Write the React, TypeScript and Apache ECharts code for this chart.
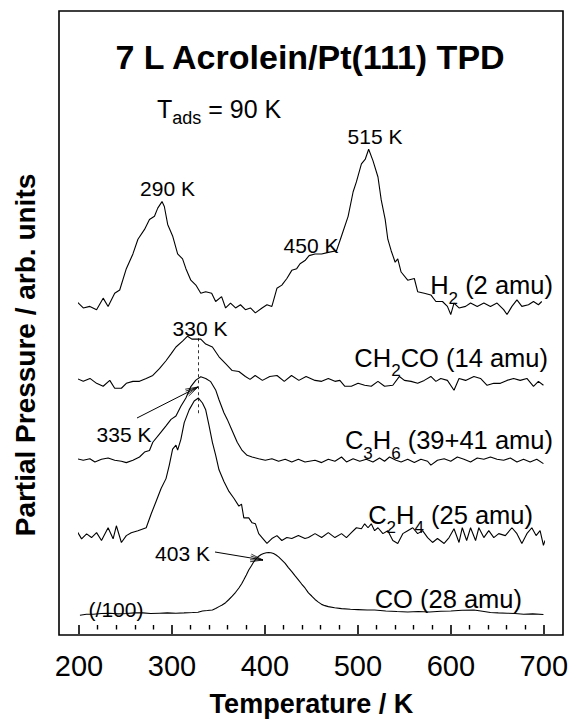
import React, { useEffect, useRef } from "react";
import * as echarts from "echarts";

const FONT = "'Liberation Sans', Arial, Helvetica, sans-serif";

// x axis (Temperature / K)
const xMin = 200;
const xMax = 700;
const xStep = 100;

// Traces: [temperature K, partial pressure (arb. units, offset stacked as in figure)]
const h2: number[][] = [
  [197.5, 329.3], [204.6, 322.7], [211.7, 324.3], [218.9, 321], [226, 332.7], [231.3, 324.3],
  [238.4, 337.7], [243.8, 341], [250.9, 362.7], [258, 377.7], [263.4, 392.7], [270.5, 402.7],
  [275.8, 412.7], [281.2, 416], [284.7, 424.3], [289.3, 431], [291.8, 426], [295.4, 407.7],
  [300.7, 396], [306.1, 377.7], [311.4, 372.7], [315, 362.7], [320.3, 351], [325.7, 346],
  [331, 337.7], [336.3, 339.3], [342.7, 337.7], [347, 329.3], [353.4, 334.3], [357.7, 322.7],
  [363, 327.7], [368.4, 322.7], [373.7, 326], [379, 321], [384.4, 322.7], [389.7, 317.7],
  [396.9, 322.7], [402.2, 326], [407.5, 324.3], [412.9, 342.7], [418.2, 346], [423.6, 352.7],
  [428.9, 361], [434.2, 362.7], [437.8, 367.7], [443.1, 371], [447.5, 376], [453.9, 377.7],
  [461, 377.7], [468.2, 379.3], [477, 381], [482.4, 396], [489.5, 416], [494.9, 441],
  [498.4, 451], [503.8, 469.3], [508, 474.3], [511.6, 484.3], [516.2, 472.7], [521.6, 456],
  [525.1, 432.7], [529.4, 412.7], [532.2, 392.7], [535.8, 381], [540.1, 369.3], [542.9, 372.7],
  [546.5, 359.3], [553.6, 351], [560.7, 352.7], [564.3, 339.3], [571.4, 337.7], [578.5, 336],
  [583.9, 329.3], [591, 329.3], [596.3, 324.3], [599.9, 316], [603.4, 327.7], [608.8, 322.7],
  [615.9, 324.3], [621.2, 327.7], [628.4, 324.3], [635.5, 327.7], [642.6, 324.3], [649.7, 327.7],
  [656.8, 321], [660.4, 316], [665.7, 324.3], [671.1, 331], [676.4, 324.3], [683.5, 326],
  [688.9, 329.3], [694.2, 326], [697.8, 329.3],
];

const ch2co: number[][] = [
  [197.5, 251], [204.6, 248], [211.8, 251], [218.9, 246], [226, 243], [233.1, 249],
  [238.4, 241], [245.6, 241], [250.9, 246], [258, 248], [265.1, 248], [272.3, 251],
  [279.4, 254], [286.5, 261], [293.6, 269], [299, 276], [304.3, 283], [311.4, 289],
  [316.8, 294], [321.4, 291], [325.7, 291], [331, 291], [336.3, 286], [343.5, 283],
  [350.6, 273], [357.7, 266], [364.8, 259], [372, 258], [379, 253], [384, 250], [389.5, 254],
  [397.3, 249], [405.2, 253], [413, 254], [420.8, 248], [428.6, 254], [436.5, 249],
  [444.3, 253], [453.9, 249], [461, 248], [468.2, 251], [475.3, 248], [480.6, 249],
  [486, 243], [493, 243], [500.2, 246], [507.3, 244], [514.4, 243], [521.6, 248],
  [528.7, 243], [537.6, 244], [544.7, 253], [550, 249], [557.2, 248], [564.3, 246],
  [571.4, 249], [578.5, 253], [583.9, 248], [589.2, 251], [596.3, 249], [603.4, 239],
  [608.8, 251], [615.9, 249], [624.8, 253], [631.9, 251], [639, 244], [646.2, 246],
  [653.3, 246], [660.4, 249], [667.5, 251], [674.6, 249], [681.8, 251], [688.9, 243],
  [694.2, 248], [699.6, 244],
];

const c3h6: number[][] = [
  [197.5, 169.3], [204.6, 167.7], [211.7, 169.3], [217.1, 166], [224.2, 168.7], [231.3, 170],
  [238.4, 167.7], [245.6, 166.7], [250.9, 165.3], [258, 167.7], [265.1, 171], [270.5, 176],
  [275.8, 177.7], [279.4, 186], [286.5, 194.3], [293.6, 202.7], [299, 209.3], [304.3, 212.7],
  [309.6, 222.7], [315, 231], [320.3, 242.7], [325.7, 249.3], [331, 252.7], [336.3, 251],
  [341.7, 247.7], [347, 239.3], [350.6, 229.3], [355.9, 216], [359.5, 209.3], [364.8, 197.7],
  [370.2, 186], [375.5, 177.7], [380.8, 172.7], [386.2, 171], [393.3, 169.3], [400.4, 167.7],
  [407.5, 169.3], [414.7, 166.7], [421.8, 168.7], [428.9, 166], [436, 168.7], [443.1, 166],
  [453.9, 167.7], [461, 165.3], [468.2, 168.7], [475.3, 166.7], [482.4, 171], [487.7, 166],
  [494.9, 169.3], [502, 166.7], [509.1, 168.7], [516.2, 166], [523.3, 170], [528.7, 166.7],
  [534, 171], [541.1, 167.7], [546.5, 166], [553.6, 168.7], [560.7, 165.3], [567.8, 168.7],
  [575, 166.7], [578.5, 162.7], [585.6, 167.7], [592.8, 169.3], [599.9, 166.7], [607, 171],
  [614.1, 168.7], [621.2, 166], [628.4, 170], [635.5, 168.7], [642.6, 171], [649.7, 168.7],
  [656.8, 167.7], [664, 170], [671.1, 166], [678.2, 168.7], [685.3, 166], [692.4, 168.7],
  [699.6, 164.3],
];

const c2h4: number[][] = [
  [197.5, 96], [202.8, 87.7], [208.2, 92.7], [213.5, 89], [218.9, 94], [224.2, 86],
  [231.3, 99], [236.7, 87.7], [240.2, 101], [245.6, 84], [250.9, 91], [256.2, 94],
  [263.4, 96], [272.3, 99], [277.6, 113], [283, 126], [288.3, 139], [293.6, 149],
  [297.2, 163], [300.7, 179], [304.3, 183], [306.1, 178], [309.6, 189], [313.2, 206],
  [318.5, 219], [323.9, 228], [328.5, 231], [332.8, 226], [336.3, 219], [339.9, 203],
  [343.5, 186], [347, 173], [350.6, 158], [355.9, 146], [361.3, 136], [366.6, 129],
  [372, 121], [374.8, 123], [377.3, 109], [382.6, 109], [386.2, 104], [389.8, 103],
  [393.3, 93], [396.9, 89], [402.2, 83], [407.5, 88], [412.9, 91], [418.2, 86],
  [423.6, 89], [428.9, 88], [436, 91], [443.1, 88], [446.8, 89], [453.9, 93], [461, 89],
  [468.2, 94], [475.3, 89], [482.4, 93], [487.7, 89], [493, 94], [498.4, 99], [503.8, 98],
  [507.3, 103], [510.9, 99], [514.4, 103], [518, 96], [521.6, 99], [526.9, 93], [532.2, 96],
  [537.6, 86], [542.9, 83], [548.3, 93], [553.6, 96], [559, 99], [564.3, 93], [569.6, 96],
  [575, 89], [580.3, 84], [585.6, 88], [592.8, 83], [598.1, 89], [603.4, 98], [608.8, 84],
  [612.3, 99], [617, 86], [621.2, 99], [626.6, 86], [630.1, 99], [635.5, 89], [640.8, 96],
  [646.2, 89], [651.5, 93], [658.6, 91], [665.7, 99], [671.1, 93], [676.4, 83], [681.8, 93],
  [687.1, 99], [691.7, 91], [696, 96], [699.6, 81], [701.3, 86],
];

const co: number[][] = [
  [201, 10], [208, 11], [215.3, 11], [224, 11.7], [233.1, 12], [242, 11.3], [250.9, 11.7],
  [260, 12.3], [268.7, 12.3], [277, 11.7], [286.5, 12], [295, 12.3], [304.3, 12], [313, 12.3],
  [322.1, 12.7], [328, 13], [332.8, 14.3], [338, 14.7], [343.5, 15.3], [347, 16.7],
  [350.6, 18.7], [354, 20.3], [357.7, 22.7], [361, 25.7], [364.8, 29.3], [368.5, 33.3],
  [372, 37.7], [375, 42], [377.3, 46], [380, 51], [382.6, 56], [385.5, 60.3], [388, 64.3],
  [390.5, 67.3], [393.3, 70], [396, 71.7], [398.6, 72.7], [401.5, 73.5], [404, 73.7],
  [406.5, 73.5], [409.3, 72.7], [412, 71.3], [414.7, 69.3], [418, 66.3], [421.8, 62.7],
  [425, 58.7], [428.9, 54.3], [432.5, 50], [436, 46], [439.5, 41.7], [443.1, 37.7],
  [446.8, 32.7], [450.3, 29.5], [453.9, 26], [457.5, 23.3], [461, 21], [464.5, 19.7],
  [468.2, 18.7], [475, 17.5], [482.4, 16.7], [492, 16], [500, 15.7], [510, 15.3], [518, 15.3],
  [530, 14.3], [542, 13.7], [553.6, 13.3], [565, 13.7], [577, 13.3], [589.2, 14],
  [600, 14.3], [612, 15], [624.9, 15.3], [634, 14], [642.6, 12.7], [651, 12.3],
  [660.5, 12], [669, 11.7], [678.3, 11], [688, 11.3], [699.6, 10.7],
];

// dashed marker through the 330 / 335 K peaks
const markerT = 328;
const markerTop = 298;
const markerBottom = 214;

const traceLabels = [
  "{m|H}{s|2}{m| (2 amu)}",
  "{m|CH}{s|2}{m|CO (14 amu)}",
  "{m|C}{s|3}{m|H}{s|6}{m| (39+41 amu)}",
  "{m|C}{s|2}{m|H}{s|4}{m| (25 amu)}",
  "{m|CO (28 amu)}",
];

const peakLabels = ["290 K", "515 K", "450 K", "330 K", "335 K", "403 K", "(/100)"];

function arrowGroup(x1: number, y1: number, x2: number, y2: number) {
  const ang = Math.atan2(y2 - y1, x2 - x1);
  const len = 13;
  const spread = 0.3;
  const children: any[] = [
    { type: "line", shape: { x1, y1, x2, y2 }, style: { stroke: "#000", lineWidth: 1 } },
  ];
  [-spread, -spread / 2, spread / 2, spread].forEach((d) => {
    children.push({
      type: "line",
      shape: {
        x1: x2 - len * Math.cos(ang + d),
        y1: y2 - len * Math.sin(ang + d),
        x2,
        y2,
      },
      style: { stroke: "#000", lineWidth: 0.8 },
    });
  });
  return { type: "group", children };
}

export default function App() {
  const ref = useRef<HTMLDivElement>(null);
  useEffect(() => {
    const chart = echarts.init(ref.current!, null, { renderer: "svg" });
    const lineSeries = (data: number[][], extra: any = {}) => ({
      type: "line",
      data,
      showSymbol: false,
      symbol: "none",
      lineStyle: { color: "#000", width: 1.1 },
      silent: true,
      ...extra,
    });
    const richStyles = {
      m: { fontSize: 25.5, fontFamily: FONT, color: "#000", lineHeight: 44, verticalAlign: "middle" },
      s: { fontSize: 17, fontFamily: FONT, color: "#000", lineHeight: 18, height: 18, verticalAlign: "bottom" },
    };
    const seriesLabel = (text: string, right: number, cy: number) => ({
      type: "text",
      x: right,
      y: cy,
      style: { text, align: "right", verticalAlign: "middle", rich: richStyles, fill: "#000" },
    });
    const plainText = (text: string, cx: number, cy: number, size = 21) => ({
      type: "text",
      x: cx,
      y: cy,
      style: {
        text,
        fontSize: size,
        fontFamily: FONT,
        fill: "#000",
        align: "center",
        verticalAlign: "middle",
      },
    });

    chart.setOption({
      animation: false,
      backgroundColor: "#fff",
      grid: { left: 79, right: 24, top: 11, bottom: 86 },
      xAxis: {
        type: "value",
        min: xMin,
        max: xMax,
        interval: xStep,
        axisLine: { show: false },
        axisTick: { show: true, length: 9, lineStyle: { color: "#000", width: 1.6 } },
        minorTick: { show: true, splitNumber: 5, length: 4.5, lineStyle: { color: "#000", width: 1.4 } },
        splitLine: { show: false },
        minorSplitLine: { show: false },
        axisLabel: { fontSize: 29, color: "#000", fontFamily: FONT, margin: 26 },
        name: "Temperature / K",
        nameLocation: "middle",
        nameGap: 65,
        nameTextStyle: { fontSize: 27, fontWeight: "bold", color: "#000", fontFamily: FONT },
      },
      yAxis: { type: "value", min: 0, max: 625, show: false },
      series: [
        lineSeries(h2),
        lineSeries(ch2co, {
          markLine: {
            silent: true,
            symbol: "none",
            label: { show: false },
            lineStyle: { color: "#000", width: 0.8, type: [3, 3] },
            data: [[{ coord: [markerT, markerTop] }, { coord: [markerT, markerBottom] }]],
          },
        }),
        lineSeries(c3h6),
        lineSeries(c2h4),
        lineSeries(co),
      ],
      graphic: [
        {
          type: "rect",
          shape: { x: 59, y: 11, width: 504, height: 624 },
          style: { fill: "none", stroke: "#000", lineWidth: 1.6 },
          silent: true,
        },
        {
          type: "text",
          x: 310,
          y: 57,
          style: {
            text: "7 L Acrolein/Pt(111) TPD",
            fontSize: 34,
            fontWeight: "bold",
            fontFamily: FONT,
            fill: "#000",
            align: "center",
            verticalAlign: "middle",
          },
        },
        {
          type: "text",
          x: 157,
          y: 109,
          style: {
            text: "{m|T}{s|ads}{m| = 90 K}",
            align: "left",
            verticalAlign: "middle",
            rich: {
              m: { fontSize: 25, fontFamily: FONT, color: "#000", lineHeight: 36, verticalAlign: "middle" },
              s: { fontSize: 18, fontFamily: FONT, color: "#000", lineHeight: 19, height: 19, verticalAlign: "bottom" },
            },
          },
        },
        {
          type: "text",
          x: 25,
          y: 355,
          rotation: Math.PI / 2,
          style: {
            text: "Partial Pressure / arb. units",
            fontSize: 28,
            fontWeight: "bold",
            fontFamily: FONT,
            fill: "#000",
            align: "center",
            verticalAlign: "middle",
          },
        },
        plainText(peakLabels[0], 167.5, 188),
        plainText(peakLabels[1], 375, 136),
        plainText(peakLabels[2], 311, 245),
        plainText(peakLabels[3], 200, 328),
        plainText(peakLabels[4], 124, 434),
        plainText(peakLabels[5], 182.5, 553),
        plainText(peakLabels[6], 116, 609),
        arrowGroup(137, 418, 198, 387),
        arrowGroup(215, 552, 263, 560),
        seriesLabel(traceLabels[0], 553, 285),
        seriesLabel(traceLabels[1], 548, 357.5),
        seriesLabel(traceLabels[2], 553, 440),
        seriesLabel(traceLabels[3], 533, 514.5),
        seriesLabel(traceLabels[4], 522, 598.5),
      ],
    });
    return () => chart.dispose();
  }, []);
  return (
    <div
      ref={ref}
      style={{ position: "absolute", left: 0, top: 0, width: 571, height: 722 }}
    />
  );
}
